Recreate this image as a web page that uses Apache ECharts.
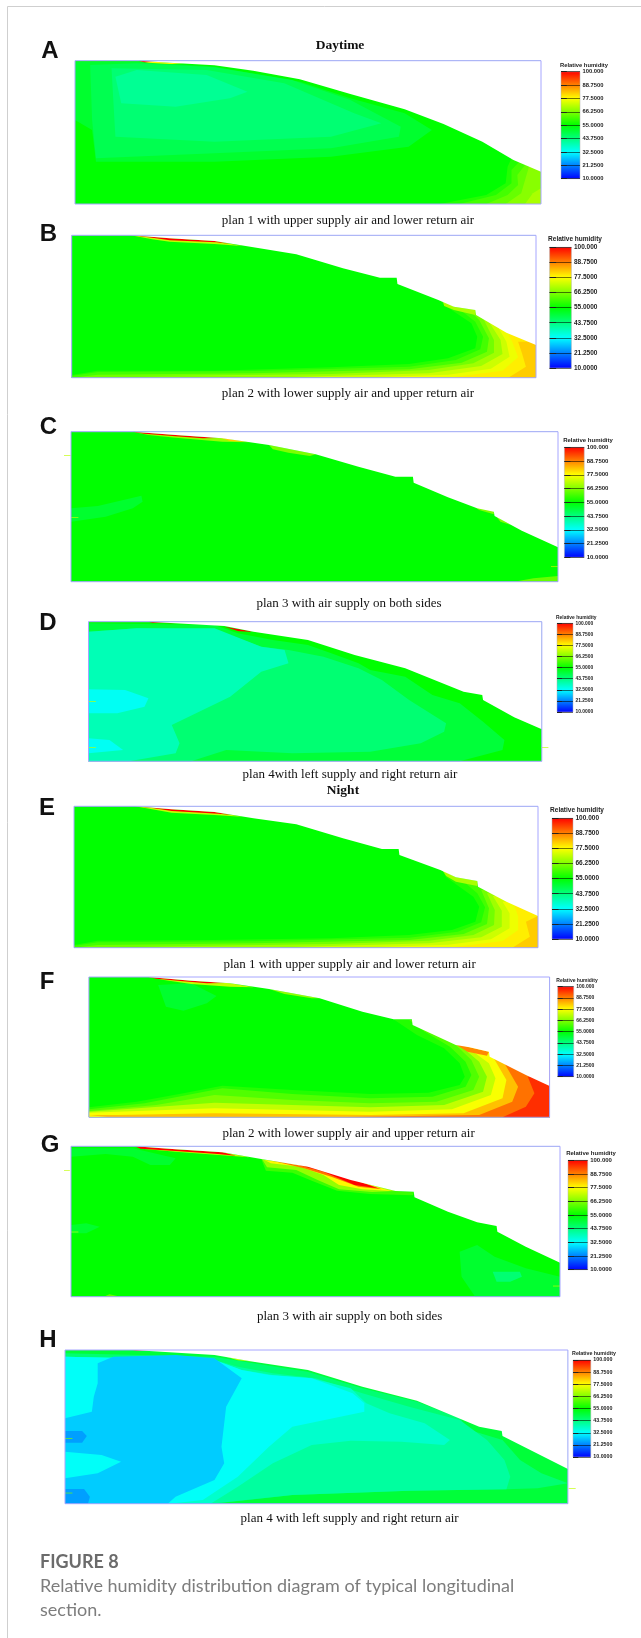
<!DOCTYPE html>
<html><head><meta charset="utf-8">
<style>html,body{margin:0;padding:0;background:#fff}#chart{width:641px;height:1638px}#chart canvas{filter:blur(0.45px)}</style>
<script src="https://cdn.jsdelivr.net/npm/echarts@6/dist/echarts.min.js"></script>
</head><body><div id="chart"></div>
<script>
// humidity colour ramp and legend ticks
const rampStops=[[10,'#0000ff'],[21.25,'#0080ff'],[32.5,'#00ffff'],[43.75,'#00ff80'],[55,'#00ff00'],[66.25,'#80ff00'],[77.5,'#ffff00'],[88.75,'#ff8000'],[100,'#ff0000']];
const tickLabels=['10.0000','21.2500','32.5000','43.7500','55.0000','66.2500','77.5000','88.7500','100.000'];
const captions=['plan 1 with upper supply air and lower return air','plan 2 with lower supply air and upper return air','plan 3 with air supply on both sides','plan 4with left supply and right return air','plan 1 with upper supply air and lower return air','plan 2 with lower supply air and upper return air','plan 3 with air supply on both sides','plan 4 with left supply and right return air'];
const letters=['A','B','C','D','E','F','G','H'];

// section outlines (length, depth readings along each section)
const roofA=[141,122,305,122,385,128,500,136,600,152,720,178,850,222,990,268,1090,312,1190,365,1270,420,1341,455];
const roofB=[133,646,285,646,385,655,500,663,600,682,710,703,830,745,925,773,968,773,970,792,1075,840,1115,860,1170,870,1172,885,1250,938,1326,975];
const roofC=[131,65,290,65,400,75,520,85,640,105,760,133,870,170,965,200,1010,200,1012,218,1100,262,1175,295,1218,305,1220,318,1290,362,1383,412];
const roofD=[176,635,330,635,525,648,600,665,740,690,860,735,990,775,1140,845,1188,855,1190,870,1270,922,1341,958];
const roofE=[139,49,295,49,390,58,500,66,600,85,710,103,830,145,930,177,973,177,975,195,1080,240,1120,262,1175,273,1177,290,1250,335,1331,378];
const roofF=[177,561,330,561,440,572,540,580,640,597,770,625,880,665,960,688,1007,688,1009,705,1120,765,1155,772,1205,785,1207,800,1300,855,1361,888];
const roofG=[131,49,295,49,400,58,520,67,620,87,740,110,850,150,965,183,1012,185,1014,202,1100,245,1175,277,1225,288,1227,305,1300,350,1388,398];
const roofH=[116,660,290,660,500,675,600,695,740,720,880,770,1020,812,1180,890,1238,903,1240,918,1408,1017];

// humidity zones: [relative humidity, outline readings...]
const zonesA=[
[55,141,122,1341,122,1341,552,141,552],
[51,141,125,300,125,500,140,720,185,850,235,990,280,1060,330,1000,380,800,410,500,425,195,425,185,330,141,300],
[48,180,135,300,130,500,142,700,180,850,240,980,320,975,350,800,385,500,400,195,415,185,300],
[45,235,145,480,150,680,190,860,280,930,310,800,350,500,365,245,350],
[42,245,170,300,150,480,165,585,215,540,235,400,260,260,250],
[58,1080,552,1200,525,1250,490,1255,440,1265,415,1341,415,1341,552],
[61,1130,552,1225,525,1265,490,1265,450,1285,425,1341,425,1341,552],
[64,1200,552,1255,525,1282,495,1280,465,1300,435,1341,435,1341,552],
[67,1250,552,1290,520,1300,480,1310,440,1341,440,1341,552],
[70,1300,552,1320,520,1341,505,1341,552],
[78,305,122,385,128,420,132,385,132,330,128],
[100,305,122,350,125,320,127]];
const zonesB=[
[55,133,646,1326,646,1326,1073,133,1073],
[58,133,1065,200,1052,500,1052,800,1042,1000,1032,1100,1015,1170,985,1175,950,1160,910,1090,855,1075,835,1326,835,1326,1073,133,1073],
[61,133,1068,200,1056,600,1053,1000,1040,1120,1020,1183,988,1190,950,1170,905,1110,850,1326,850,1326,1073,133,1073],
[65,200,1064,600,1060,1000,1048,1135,1028,1200,995,1205,955,1180,900,1150,865,1326,865,1326,1073,133,1073],
[69,300,1069,800,1062,1050,1050,1165,1030,1218,998,1218,960,1190,895,1326,895,1326,1073],
[73,700,1071,1050,1060,1185,1038,1240,1002,1235,960,1205,905,1326,905,1326,1073],
[76,900,1072,1100,1064,1210,1046,1258,1010,1250,965,1230,925,1326,925,1326,1073],
[79,1100,1073,1240,1052,1280,1012,1265,965,1255,945,1326,945,1326,1073],
[82,1255,1073,1300,1040,1290,1000,1280,965,1326,965,1326,1073],
[72,285,646,385,655,500,663,570,678,500,672,385,665,340,658],
[100,290,646,385,655,500,663,540,672,505,667,385,661,345,654],
[70,1085,835,1115,860,1170,870,1170,885,1115,870,1090,858]];
const zonesC=[
[55,131,65,1383,65,1383,515,131,515],
[51,131,295,200,288,312,257,315,275,290,295,220,320,131,335],
[68,290,65,400,75,520,85,590,97,520,95,400,83,330,75],
[100,290,65,400,75,510,84,470,85,400,79,320,71],
[82,510,82,580,95,540,93],
[66,640,105,760,133,745,138,690,128,650,118],
[66,1170,291,1218,303,1218,313,1180,300],
[66,1225,320,1262,345,1235,335],
[64,1270,515,1320,505,1383,498,1383,515]];
const zonesD=[
[55,176,635,1341,635,1341,1054,176,1054],
[50,176,640,500,645,560,670,650,690,740,705,800,730,870,760,900,780,990,800,1060,855,1130,880,1190,935,1245,990,1240,1020,1130,1054,176,1054],
[45,176,665,300,655,500,660,550,680,620,710,690,720,780,740,870,775,930,810,1000,870,1095,940,1090,965,1030,1000,900,1025,700,1030,530,1020,440,1054,176,1054],
[39,176,665,300,655,500,655,555,680,620,710,680,720,690,760,620,785,540,860,390,945,410,1000,400,1030,280,1054,176,1054],
[33.5,176,838,270,840,330,865,320,890,250,910,176,910],
[33.5,176,985,230,990,265,1020,176,1030],
[100,330,635,400,640,340,638],
[100,525,650,600,665,560,663]];
const zonesE=[
[55,139,49,1331,49,1331,473,139,473],
[58,139,465,200,452,500,450,800,445,1000,435,1110,420,1170,395,1180,350,1165,320,1095,262,1085,240,1331,240,1331,473,139,473],
[61,139,468,200,457,600,454,1000,443,1125,425,1185,397,1195,352,1175,310,1120,255,1331,255,1331,473,139,473],
[65,200,465,600,460,1000,450,1140,432,1200,402,1205,355,1185,300,1331,300,1331,473,139,473],
[69,300,470,800,462,1050,452,1165,435,1218,405,1220,360,1200,310,1331,310,1331,473],
[73,700,471,1050,460,1185,442,1238,410,1238,362,1215,318,1331,318,1331,473],
[76,900,472,1100,464,1210,448,1258,415,1258,370,1240,335,1331,335,1331,473],
[79,1100,473,1240,453,1280,420,1280,380,1270,345,1331,345,1331,473],
[82,1265,473,1310,440,1300,395,1331,378,1331,473],
[72,295,49,390,58,500,66,570,80,500,75,390,68,340,58],
[100,300,49,390,58,500,66,545,75,510,71,390,63,345,55],
[70,1085,240,1120,262,1175,273,1175,288,1120,275,1095,258]];
const zonesF=[
[55,177,561,1361,561,1361,982,177,982],
[51,355,585,440,580,505,618,480,640,420,662,375,650],
[58,177,952,300,935,420,910,520,887,700,900,900,912,1050,908,1130,885,1143,860,1130,820,1090,775,1020,735,950,680,1361,680,1361,982,177,982],
[62,177,958,320,940,430,915,520,895,700,912,900,925,1060,920,1145,890,1160,855,1145,815,1105,770,1040,725,1000,690,1361,690,1361,982,177,982],
[66,177,963,350,945,500,915,700,930,900,940,1070,935,1165,900,1180,860,1160,810,1120,765,1060,725,1361,725,1361,982,177,982],
[72,177,965,500,938,900,952,1090,945,1190,905,1200,860,1180,815,1135,770,1090,740,1361,740,1361,982,177,982],
[77,177,968,500,955,900,965,1110,958,1210,915,1222,865,1205,820,1130,755,1361,755,1361,982,177,982],
[83,177,975,250,975,500,970,900,975,1140,970,1240,925,1250,870,1225,820,1210,790,1361,790,1361,982,230,982],
[90,800,982,1180,975,1265,935,1280,890,1255,840,1240,810,1361,810,1361,982],
[96,1240,982,1300,950,1322,910,1305,860,1361,860,1361,982],
[88,1115,760,1155,772,1205,785,1200,797,1150,785],
[72,330,561,440,572,540,580,600,592,540,590,440,582,370,570],
[100,330,561,440,572,530,579,480,580,420,574,350,566],
[68,640,597,770,625,750,625,680,612]];
const zonesG=[
[55,131,49,1388,49,1388,500,131,500],
[51,131,55,290,55,400,85,385,105,335,105,290,80,220,72,131,80],
[51,131,285,170,280,205,290,170,310,131,310],
[51,1130,365,1175,345,1220,380,1300,415,1388,440,1388,500,1170,500,1135,440],
[45,1215,425,1285,425,1290,440,1260,455,1225,455],
[72,295,49,400,58,520,67,590,82,520,76,400,65,320,57],
[100,295,49,400,58,520,67,555,77,500,71,400,63,310,56],
[60,620,87,740,110,850,150,965,183,1012,187,1010,196,900,192,815,182,750,152,700,128,632,122],
[68,622,88,745,112,860,150,965,183,905,186,820,178,765,150,710,120,635,112],
[78,628,90,745,110,860,152,955,183,880,178,820,165,780,135,720,110,645,100],
[90,640,90,745,112,860,150,930,178,870,170,800,140,730,115],
[100,700,100,745,110,860,150,920,175,860,165,780,125],
[64,215,500,230,493,250,498,250,500]];
const zonesH=[
[50,116,660,1408,660,1408,1121,116,1121],
[45,116,670,500,680,600,700,740,725,880,775,1020,815,1130,865,1155,900,1240,930,1285,990,1340,1030,1408,1060,1330,1075,1250,1078,1000,1082,700,1095,500,1121,116,1121],
[41,116,680,500,690,560,710,650,730,760,745,880,790,1000,830,1130,870,1200,930,1245,990,1260,1040,1250,1078,1000,1082,700,1095,490,1121,116,1121],
[37,116,680,500,690,570,720,650,735,750,745,850,775,890,820,950,850,1040,880,1105,930,1090,945,980,935,850,932,750,945,650,1000,560,1070,490,1121,116,1121],
[33,116,680,500,690,570,720,640,735,750,745,855,790,885,820,885,845,700,890,640,950,560,1040,470,1110,385,1121,116,1121],
[28,200,700,240,680,400,675,500,685,535,715,570,745,530,830,518,950,525,1000,500,1050,400,1100,380,1121,116,1121,116,1045,200,1030,260,995,210,975,116,965,116,865,185,845,190,800,200,760],
[24,116,903,160,903,172,918,160,938,116,938],
[24,116,1077,165,1077,180,1100,175,1121,116,1121],
[100,290,660,360,663,300,662],
[72,530,680,600,695,560,691]];

// short supply-inlet marks drawn over each section
const inletsC=[[72,113,135,130,137],[72,131,321,150,323],[72,1365,469,1383,471]];
const inletsD=[[72,176,873,195,875],[72,176,1011,195,1013],[72,1341,1011,1358,1013]];
const inletsG=[[72,113,120,128,122],[72,131,305,150,307],[72,1370,467,1388,469]];
const inletsH=[[66,116,924,135,926],[66,116,1088,135,1090],[72,1410,1074,1428,1076]];

// page layout of the eight panels: plot box, legend box, text rows
const panels=[
{roof:roofA,zones:zonesA,inlets:[],box:[75,60.7,541,204],leg:[561,71.7,580,178.7],font:5.8,titleY:65,titleX:584,capX:348,capY:220.3,letX:50,letY:51.7},
{roof:roofB,zones:zonesB,inlets:[],box:[71.7,235.3,536,377.7],leg:[549.6,247.3,571.4,368],font:6.5,titleY:239.7,titleX:575,capX:348,capY:394,letX:48.4,letY:234},
{roof:roofC,zones:zonesC,inlets:inletsC,box:[71,431.7,558,581.7],leg:[564.4,447.3,584.2,557.3],font:6,titleY:440.3,titleX:588,capX:349,capY:603.3,letX:48.4,letY:427.3},
{roof:roofD,zones:zonesD,inlets:inletsD,box:[88.5,621.7,541.8,761.3],leg:[557,623.3,573,712],font:4.9,titleY:617.7,titleX:576.3,capX:350,capY:775,letX:48,letY:623.3},
{roof:roofE,zones:zonesE,inlets:[],box:[74,806.3,538,947.7],leg:[552,818.3,573,939],font:6.5,titleY:810.3,titleX:577,capX:349.6,capY:964.3,letX:47,letY:808},
{roof:roofF,zones:zonesF,inlets:[],box:[88.9,977,549.6,1117.3],leg:[557.7,986.7,573.7,1076.7],font:5,titleY:980.7,titleX:577,capX:348.6,capY:1134,letX:47,letY:982.7},
{roof:roofG,zones:zonesG,inlets:inletsG,box:[71,1146.3,560,1296.7],leg:[568,1160.3,587.7,1269.7],font:6,titleY:1153,titleX:591,capX:349.6,capY:1317,letX:50,letY:1145},
{roof:roofH,zones:zonesH,inlets:inletsH,box:[65,1350,567.9,1503.7],leg:[573,1360,590.8,1457],font:5.3,titleY:1353.3,titleX:594,capX:349.6,capY:1518.3,letX:48,letY:1340}
];

function hex(c){return [1,3,5].map(i=>parseInt(c.substr(i,2),16));}
function humColor(h){
  for(let i=1;i<rampStops.length;i++){
    if(h<=rampStops[i][0]){
      const a=rampStops[i-1],b=rampStops[i],t=(h-a[0])/(b[0]-a[0]),ca=hex(a[1]),cb=hex(b[1]);
      return 'rgb('+ca.map((v,k)=>Math.round(v+(cb[k]-v)*t)).join(',')+')';
    }
  }
  return rampStops[rampStops.length-1][1];
}
function pairs(flat,start){const o=[];for(let i=start;i<flat.length;i+=2)o.push([flat[i],flat[i+1]]);return o;}

const grids=[],xAxes=[],yAxes=[],series=[],titles=[];
function text(t,x,y,size,family,weight,color,align){
  titles.push({text:t,left:x,top:y,textAlign:align||'center',textVerticalAlign:'middle',padding:0,
    textStyle:{fontSize:size,fontFamily:family,fontWeight:weight,color:color}});
}
panels.forEach((p,n)=>{
  const xs=p.zones[0],xmin=xs[1],xmax=xs[3],ymin=xs[2],ymax=xs[6];
  const b=p.box,l=p.leg;
  // section plot
  grids.push({left:b[0],top:b[1],width:b[2]-b[0],height:b[3]-b[1],show:false});
  xAxes.push({gridIndex:2*n,type:'value',min:xmin,max:xmax,show:false});
  yAxes.push({gridIndex:2*n,type:'value',min:ymin,max:ymax,inverse:true,show:false});
  const layers=p.zones.map(z=>({fill:humColor(z[0]),pts:pairs(z,1)}));
  const roofPts=pairs(p.roof,0);
  layers.push({fill:'#ffffff',pts:roofPts.concat([[xmax,ymin],[xmin,ymin]])});
  p.inlets.forEach(d=>layers.push({fill:humColor(d[0]),pts:[[d[1],d[2]],[d[3],d[2]],[d[3],d[4]],[d[1],d[4]]]}));
  layers.push({fill:'none',stroke:'#a6a6ff',pts:[[xmin,ymin],[xmax,ymin],[xmax,ymax],[xmin,ymax]]});
  series.push({type:'custom',xAxisIndex:2*n,yAxisIndex:2*n,coordinateSystem:'cartesian2d',silent:true,animation:false,clip:false,
    data:layers.map((_,i)=>[xmin,ymin,i]),encode:{x:0,y:1},
    renderItem:(params,api)=>{
      const ly=layers[api.value(2)];
      return {type:'polygon',z2:api.value(2),shape:{points:ly.pts.map(q=>api.coord(q))},
        style:{fill:ly.fill,stroke:ly.stroke||null,lineWidth:ly.stroke?1:0}};
    }});
  // legend colour bar on its own humidity axis
  grids.push({left:l[0],top:l[1],width:l[2]-l[0],height:l[3]-l[1],show:false});
  xAxes.push({gridIndex:2*n+1,type:'value',min:0,max:1,show:false});
  yAxes.push({gridIndex:2*n+1,type:'value',position:'right',min:0,max:90,interval:11.25,z:6,
    axisLine:{show:false},
    axisTick:{show:true,length:p.font,lineStyle:{color:'#222',width:1}},
    splitLine:{show:true,lineStyle:{color:'rgba(0,0,0,0.55)',width:1}},
    axisLabel:{show:true,margin:2.5,fontSize:p.font,fontFamily:'Liberation Sans',fontWeight:'bold',color:'#222',
      formatter:v=>tickLabels[Math.round(v/11.25)]}});
  series.push({type:'custom',xAxisIndex:2*n+1,yAxisIndex:2*n+1,coordinateSystem:'cartesian2d',silent:true,animation:false,z:1,
    data:[[0,0,1,90]],encode:{x:0,y:1},
    renderItem:(params,api)=>{
      const a=api.coord([api.value(0),api.value(1)]),c=api.coord([api.value(2),api.value(3)]);
      return {type:'rect',shape:{x:a[0],y:c[1],width:c[0]-a[0],height:a[1]-c[1]},
        style:{fill:new echarts.graphic.LinearGradient(0,1,0,0,rampStops.map(s=>({offset:(s[0]-10)/90,color:s[1]}))),stroke:'#b0b0b0',lineWidth:0.5}};
    }});
  text('Relative humidity',p.titleX,p.titleY,p.font,'Liberation Sans','bold','#222');
  text(captions[n],p.capX,p.capY,13,'Liberation Serif','normal','#111');
  text(letters[n],p.letX,p.letY,24,'Liberation Sans','bold','#111');
});
text('Daytime',340,46,13.5,'Liberation Serif','bold','#111');
text('Night',343,790.7,13.5,'Liberation Serif','bold','#111');
text('FIGURE 8',40,1561.7,18,'Lato','bold','#6b6b6b','left');
text('Relative humidity distribution diagram of typical longitudinal',40,1586,18,'Lato','normal','#7d7d7d','left');
text('section.',40,1610,18,'Lato','normal','#7d7d7d','left');

const chart=echarts.init(document.getElementById('chart'),null,{renderer:'canvas'});
chart.setOption({animation:false,backgroundColor:'#ffffff',title:titles,grid:grids,xAxis:xAxes,yAxis:yAxes,series:series,
  graphic:[{type:'line',shape:{x1:7.5,y1:6.5,x2:7.5,y2:1638},style:{stroke:'#cfcfcf',lineWidth:1}},
           {type:'line',shape:{x1:7.5,y1:6.5,x2:641,y2:6.5},style:{stroke:'#cfcfcf',lineWidth:1}}]});
</script></body></html>
